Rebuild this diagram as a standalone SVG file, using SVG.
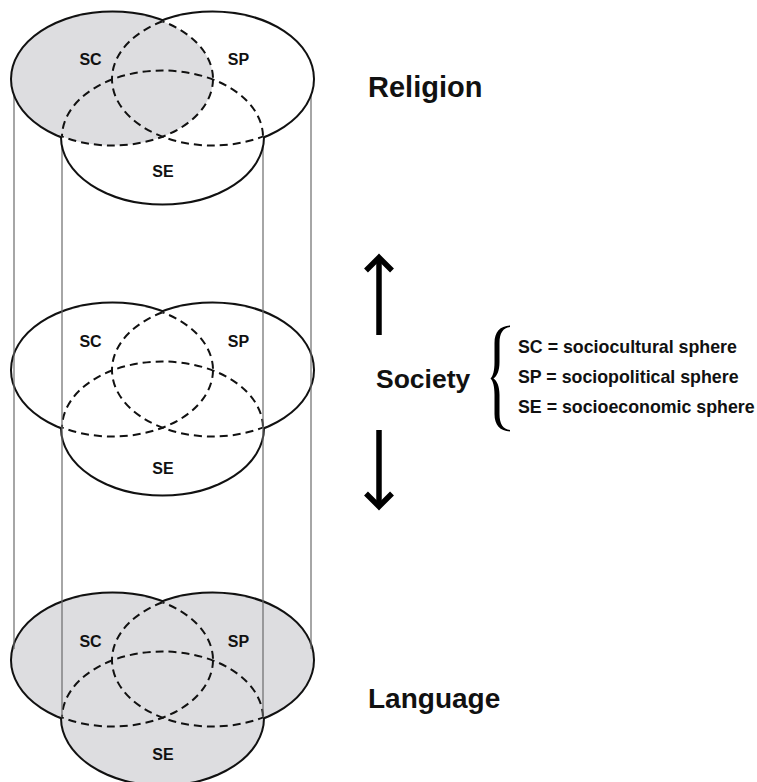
<svg xmlns="http://www.w3.org/2000/svg" width="757" height="782" viewBox="0 0 757 782">
  <style>
    .outline { fill: none; stroke: #111; stroke-width: 4; }
    .inner { fill: none; stroke: #111; stroke-width: 2; stroke-dasharray: 8 5; }
    .paper { fill: #ffffff; stroke: none; }
    .shade { fill: #dddde0; stroke: none; }
    .tag { font-family: "Liberation Sans", Arial, sans-serif; font-weight: bold; font-size: 16px; fill: #111; text-anchor: middle; }
    .title { font-family: "Liberation Sans", Arial, sans-serif; font-weight: bold; font-size: 28px; fill: #111; }
    .legend { font-family: "Liberation Sans", Arial, sans-serif; font-weight: bold; font-size: 17.8px; fill: #111; }
    .edge { stroke: #6b6b6b; stroke-width: 1.2; fill: none; }
    .arrow { stroke: #000; stroke-width: 5.5; fill: none; stroke-linejoin: miter; stroke-miterlimit: 10; }
  </style>
  <defs>
    <!-- sphere ellipses in local coordinates of one level -->
    <ellipse id="sc" cx="112.5" cy="0" rx="100.5" ry="66.5"/>
    <ellipse id="sp" cx="212.5" cy="0" rx="100.5" ry="66.5"/>
    <ellipse id="se" cx="162.5" cy="58" rx="100.5" ry="66.5"/>
    <clipPath id="in-sp-se"><use href="#sp"/><use href="#se"/></clipPath>
    <clipPath id="in-sc-se"><use href="#sc"/><use href="#se"/></clipPath>
    <clipPath id="in-sc-sp"><use href="#sc"/><use href="#sp"/></clipPath>
  </defs>

  <!-- middle level: society -->
  <g id="society-venn" transform="translate(0,370)">
    <use href="#sc" class="outline"/>
    <use href="#sp" class="outline"/>
    <use href="#se" class="outline"/>
    <use href="#sp" class="paper"/>
    <use href="#se" class="paper"/>
    <use href="#sc" class="paper"/>
    <use href="#sc" class="inner" clip-path="url(#in-sp-se)"/>
    <use href="#sp" class="inner" clip-path="url(#in-sc-se)"/>
    <use href="#se" class="inner" clip-path="url(#in-sc-sp)"/>
    <text class="tag" x="90.5" y="-23.3">SC</text>
    <text class="tag" x="238.5" y="-23.3">SP</text>
    <text class="tag" x="163" y="104">SE</text>
  </g>

  <!-- bottom level: language, all spheres shaded -->
  <g id="language-venn" transform="translate(0,660)">
    <use href="#sc" class="outline"/>
    <use href="#sp" class="outline"/>
    <use href="#se" class="outline"/>
    <use href="#sp" class="shade"/>
    <use href="#se" class="shade"/>
    <use href="#sc" class="shade"/>
    <use href="#sc" class="inner" clip-path="url(#in-sp-se)"/>
    <use href="#sp" class="inner" clip-path="url(#in-sc-se)"/>
    <use href="#se" class="inner" clip-path="url(#in-sc-sp)"/>
    <text class="tag" x="90.5" y="-13">SC</text>
    <text class="tag" x="238.5" y="-13">SP</text>
    <text class="tag" x="163" y="100">SE</text>
  </g>

  <g id="connectors">
    <!-- cylinder edges joining the three levels -->
    <g id="cylinder-edges">
      <line class="edge" x1="14" y1="79" x2="14" y2="649"/>
      <line class="edge" x1="311" y1="79" x2="311" y2="649"/>
      <line class="edge" x1="62" y1="137" x2="62" y2="717"/>
      <line class="edge" x1="263" y1="137" x2="263" y2="717"/>
    </g>
    <!-- direction arrows beside society -->
    <g id="arrow-up">
      <path class="arrow" d="M379,335 V258"/>
      <path class="arrow" d="M366,270.5 L379,257.5 L392,270.5"/>
    </g>
    <g id="arrow-down">
      <path class="arrow" d="M379,430 V505"/>
      <path class="arrow" d="M366,493.5 L379,506.5 L392,493.5"/>
    </g>
  </g>

  <!-- top level: religion, sociocultural sphere shaded -->
  <g id="religion-venn" transform="translate(0,79)">
    <use href="#sc" class="outline"/>
    <use href="#sp" class="outline"/>
    <use href="#se" class="outline"/>
    <use href="#sp" class="paper"/>
    <use href="#se" class="paper"/>
    <use href="#sc" class="shade"/>
    <use href="#sc" class="inner" clip-path="url(#in-sp-se)"/>
    <use href="#sp" class="inner" clip-path="url(#in-sc-se)"/>
    <use href="#se" class="inner" clip-path="url(#in-sc-sp)"/>
    <text class="tag" x="90.5" y="-14">SC</text>
    <text class="tag" x="238.5" y="-14">SP</text>
    <text class="tag" x="163" y="97.5">SE</text>
  </g>

  <g id="label-religion"><text class="title" x="368" y="96.7" style="font-size:29px">Religion</text></g>
  <g id="label-society"><text class="title" x="376" y="388.3" style="font-size:26.5px">Society</text></g>
  <g id="label-language"><text class="title" x="368" y="708">Language</text></g>

  <g id="legend">
    <path fill="#000" d="M510,325.5 C500,326 494.5,332 494.5,343 L494.5,362 C494.5,371 493,376 490.5,378.5 C493,381 494.5,386 494.5,395 L494.5,414 C494.5,425 500,431 510,431.5 L510,430 C503,429 499.5,424 499.5,414 L499.5,395 C499.5,386 497,381 493.5,378.5 C497,376 499.5,371 499.5,362 L499.5,343 C499.5,333 503,328 510,327 Z"/>
    <text class="legend" x="518" y="353.3">SC = sociocultural sphere</text>
    <text class="legend" x="518" y="383.3">SP = sociopolitical sphere</text>
    <text class="legend" x="518" y="413.3">SE = socioeconomic sphere</text>
  </g>
</svg>
